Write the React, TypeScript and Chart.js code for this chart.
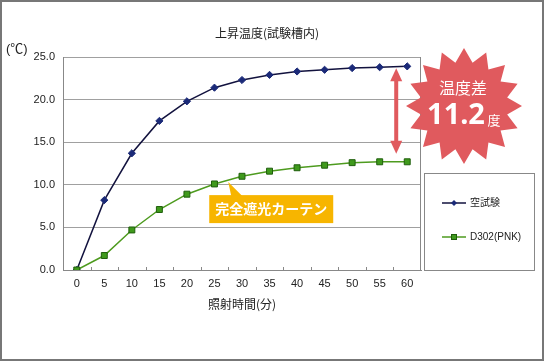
import React, { useEffect, useRef } from 'react';
import { Chart, registerables } from 'chart.js';

Chart.register(...registerables);

// ---- data ----
const X_LABELS = ['0', '5', '10', '15', '20', '25', '30', '35', '40', '45', '50', '55', '60'];
const BLANK = [0, 8.2, 13.7, 17.5, 19.8, 21.4, 22.3, 22.9, 23.3, 23.5, 23.7, 23.8, 23.9];
const PNK = [0, 1.7, 4.7, 7.1, 8.9, 10.1, 11.0, 11.6, 12.0, 12.3, 12.6, 12.7, 12.7];
const SERIES_NAMES = ['空試験', 'D302(PNK)'];
const Y_MIN = 0;
const Y_MAX = 25;
const Y_STEP = 5;
const TITLE = '上昇温度(試験槽内)';
const X_TITLE = '照射時間(分)';
const Y_UNIT = '(℃)';
const CALLOUT = '完全遮光カーテン';
const DIFF_LABEL = '温度差';
const DIFF_VALUE = '11.2';
const DIFF_UNIT = '度';

const JP = "'Noto Sans CJK JP', 'Noto Sans', sans-serif";
const LAT = "'Liberation Sans', Arial, 'Noto Sans CJK JP', sans-serif";
const RED = '#e05a5e';
const ORANGE = '#f7b500';

const BLANK_LINE = '#12123e';
const BLANK_PT = '#1b2a78';
const PNK_LINE = '#4e9b1f';
const PNK_PT = '#3f9a1c';
const PNK_PT_BORDER = '#1f5e0c';

function drawDiamond(ctx: CanvasRenderingContext2D, x: number, y: number, r: number, fill: string) {
  ctx.beginPath();
  ctx.moveTo(x, y - r);
  ctx.lineTo(x + r, y);
  ctx.lineTo(x, y + r);
  ctx.lineTo(x - r, y);
  ctx.closePath();
  ctx.fillStyle = fill;
  ctx.fill();
}

const decor = {
  id: 'decor',
  beforeDraw(chart: any) {
    const { ctx, width, height } = chart;
    ctx.save();
    ctx.fillStyle = '#fff';
    ctx.fillRect(0, 0, width, height);
    ctx.restore();
  },
  afterDatasetsDraw(chart: any) {
    const { ctx } = chart;
    const a = chart.chartArea;
    const x = chart.scales.x;
    ctx.save();
    ctx.strokeStyle = '#888';
    ctx.lineWidth = 1;
    ctx.beginPath();
    ctx.moveTo(Math.round(a.right) - 0.5, a.top);
    ctx.lineTo(Math.round(a.right) - 0.5, a.bottom);
    ctx.stroke();
    ctx.beginPath();
    for (let i = 0; i < X_LABELS.length - 1; i++) {
      const bx = Math.round((x.getPixelForValue(i) + x.getPixelForValue(i + 1)) / 2) + 0.5;
      ctx.moveTo(bx, a.bottom);
      ctx.lineTo(bx, a.bottom - 3);
    }
    ctx.stroke();
    ctx.restore();
  },
  afterDraw(chart: any) {
    const { ctx, width, height } = chart;
    const a = chart.chartArea;
    const x = chart.scales.x;
    const y = chart.scales.y;
    const n = X_LABELS.length;
    ctx.save();

    ctx.fillStyle = '#222';
    ctx.font = `12px ${JP}`;
    ctx.textAlign = 'center';
    ctx.textBaseline = 'middle';
    ctx.fillText(TITLE, 267, 33);

    ctx.font = `13px ${LAT}`;
    ctx.textAlign = 'left';
    ctx.fillText(Y_UNIT, 6, 49);

    ctx.strokeStyle = '#888';
    ctx.lineWidth = 1;
    ctx.strokeRect(424.5, 173.5, 110, Math.round(a.bottom) - 173);
    const legendRows = [203, 237];
    chart.data.datasets.forEach((ds: any, i: number) => {
      const ly = legendRows[i];
      ctx.strokeStyle = ds.borderColor;
      ctx.lineWidth = 1.5;
      ctx.beginPath();
      ctx.moveTo(442, ly);
      ctx.lineTo(466, ly);
      ctx.stroke();
      if (i === 0) {
        drawDiamond(ctx, 454, ly, 3, ds.pointBackgroundColor);
      } else {
        ctx.fillStyle = ds.pointBackgroundColor;
        ctx.fillRect(451, ly - 3, 6, 6);
        ctx.strokeStyle = ds.pointBorderColor;
        ctx.lineWidth = 1;
        ctx.strokeRect(451.5, ly - 2.5, 5, 5);
      }
      ctx.fillStyle = '#222';
      ctx.font = `10px ${LAT}`;
      ctx.textAlign = 'left';
      ctx.textBaseline = 'middle';
      ctx.fillText(ds.label, 470, ly);
    });

    const tipX = (x.getPixelForValue(5) + x.getPixelForValue(6)) / 2;
    const tipY = y.getPixelForValue((PNK[5] + PNK[6]) / 2) + 2;
    const bx = tipX - 19;
    const by = tipY + 13;
    ctx.fillStyle = ORANGE;
    ctx.beginPath();
    ctx.moveTo(tipX, tipY);
    ctx.lineTo(tipX + 3, by + 1);
    ctx.lineTo(tipX + 14, by + 1);
    ctx.closePath();
    ctx.fill();
    ctx.fillRect(bx, by, 124, 28);
    ctx.fillStyle = '#fff';
    ctx.font = `bold 14px ${JP}`;
    ctx.textAlign = 'center';
    ctx.textBaseline = 'middle';
    ctx.fillText(CALLOUT, bx + 62, by + 14);

    const ax = x.getPixelForValue(n - 2) + 0.6 * (x.getPixelForValue(n - 1) - x.getPixelForValue(n - 2));
    const topTip = y.getPixelForValue(BLANK[n - 1]) + 2;
    const botTip = y.getPixelForValue(PNK[n - 1]) - 8;
    ctx.fillStyle = RED;
    ctx.fillRect(ax - 2, topTip + 10, 4, botTip - topTip - 20);
    ctx.beginPath();
    ctx.moveTo(ax, topTip);
    ctx.lineTo(ax + 6, topTip + 13);
    ctx.lineTo(ax - 6, topTip + 13);
    ctx.closePath();
    ctx.fill();
    ctx.beginPath();
    ctx.moveTo(ax, botTip);
    ctx.lineTo(ax + 6, botTip - 13);
    ctx.lineTo(ax - 6, botTip - 13);
    ctx.closePath();
    ctx.fill();

    const cx = 464, cy = 106, R = 58, r = 44, pts = 16;
    ctx.beginPath();
    for (let k = 0; k < pts * 2; k++) {
      const ang = -Math.PI / 2 + (k * Math.PI) / pts;
      const rad = k % 2 === 0 ? R : r;
      const px = cx + rad * Math.cos(ang);
      const py = cy + rad * Math.sin(ang);
      if (k === 0) ctx.moveTo(px, py);
      else ctx.lineTo(px, py);
    }
    ctx.closePath();
    ctx.fillStyle = RED;
    ctx.fill();
    ctx.fillStyle = '#fff';
    ctx.textAlign = 'center';
    ctx.textBaseline = 'middle';
    ctx.font = `16px ${JP}`;
    ctx.fillText(DIFF_LABEL, 463, 88);
    ctx.font = `bold 29px 'Noto Sans', ${JP}`;
    ctx.fillText(DIFF_VALUE, 456, 116);
    ctx.font = `13px ${JP}`;
    ctx.fillText(DIFF_UNIT, 494, 120);

    ctx.strokeStyle = '#777';
    ctx.lineWidth = 2;
    ctx.strokeRect(1, 1, width - 2, height - 2);
    ctx.restore();
  },
};

export default function App() {
  const ref = useRef<HTMLCanvasElement | null>(null);
  useEffect(() => {
    document.body.style.margin = '0';
    const canvas = ref.current;
    if (!canvas) return;
    const chart = new Chart(canvas, {
      type: 'line',
      data: {
        labels: X_LABELS,
        datasets: [
          {
            label: SERIES_NAMES[0],
            data: BLANK,
            borderColor: BLANK_LINE,
            borderWidth: 1.5,
            pointStyle: 'rectRot',
            pointRadius: 3.6,
            pointBackgroundColor: BLANK_PT,
            pointBorderColor: BLANK_PT,
            pointBorderWidth: 1,
            tension: 0,
            order: 1,
          },
          {
            label: SERIES_NAMES[1],
            data: PNK,
            borderColor: PNK_LINE,
            borderWidth: 1.5,
            pointStyle: 'rect',
            pointRadius: 4.2,
            pointBackgroundColor: PNK_PT,
            pointBorderColor: PNK_PT_BORDER,
            pointBorderWidth: 1,
            tension: 0,
            order: 0,
          },
        ],
      },
      options: {
        responsive: false,
        animation: false,
        devicePixelRatio: 1,
        layout: { padding: { top: 57, left: 0, right: 123, bottom: 0 } },
        plugins: {
          legend: { display: false },
          title: { display: false },
          tooltip: { enabled: false },
        },
        scales: {
          x: {
            type: 'category',
            offset: true,
            grid: { display: true, offset: true, drawOnChartArea: false, drawTicks: false },
            border: { display: true, color: '#888', width: 1 },
            ticks: { color: '#222', font: { size: 11, family: LAT }, padding: 7, maxRotation: 0, autoSkip: false },
            title: {
              display: true,
              text: X_TITLE,
              color: '#222',
              font: { size: 12, family: JP },
              padding: { top: 0, bottom: 49 },
            },
            afterFit: (s: any) => {
              s.height = 91;
            },
          },
          y: {
            min: Y_MIN,
            max: Y_MAX,
            grid: { color: '#a0a0a0', drawTicks: false },
            border: { display: true, color: '#888', width: 1 },
            ticks: {
              stepSize: Y_STEP,
              color: '#222',
              font: { size: 11, family: LAT },
              padding: 8,
              callback: (v: any) => Number(v).toFixed(1),
            },
            afterFit: (s: any) => {
              s.width = 63;
            },
          },
        },
      },
      plugins: [decor],
    });
    return () => chart.destroy();
  }, []);
  return (
    <div style={{ width: 544, height: 361 }}>
      <canvas ref={ref} width={544} height={361} style={{ display: 'block' }} />
    </div>
  );
}
